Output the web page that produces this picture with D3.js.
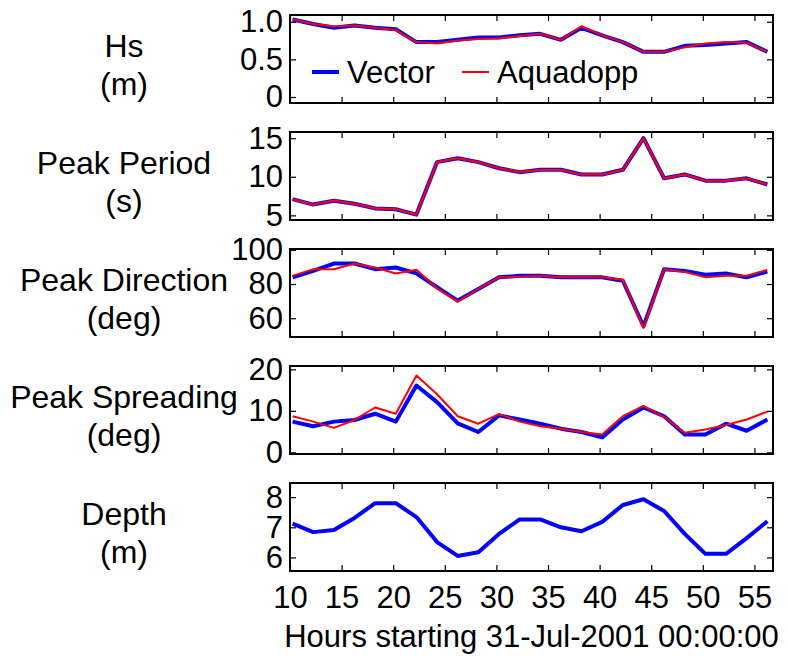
<!DOCTYPE html>
<html>
<head>
<meta charset="utf-8">
<script src="https://cdn.jsdelivr.net/npm/d3@7"></script>
<style>
  body { margin: 0; background: #fff; }
  svg { font-family: "Liberation Sans", Arial, sans-serif; }
</style>
</head>
<body>
<div id="chart"></div>
<script>
// sample times (hours since 31-Jul-2001 00:00)
var hours = [10.25, 12.25, 14.25, 16.25, 18.25, 20.25, 22.25, 24.25, 26.25, 28.25, 30.25, 32.25,
             34.25, 36.25, 38.25, 40.25, 42.25, 44.25, 46.25, 48.25, 50.25, 52.25, 54.25, 56.25];

var hsVector    = [1.03, 0.97, 0.92, 0.95, 0.92, 0.90, 0.73, 0.73, 0.76, 0.79, 0.79, 0.82,
                   0.84, 0.76, 0.92, 0.82, 0.73, 0.60, 0.60, 0.68, 0.69, 0.71, 0.73, 0.60];
var hsAquadopp  = [1.03, 0.97, 0.94, 0.95, 0.92, 0.89, 0.73, 0.71, 0.75, 0.77, 0.78, 0.81,
                   0.84, 0.76, 0.94, 0.82, 0.73, 0.60, 0.60, 0.66, 0.71, 0.73, 0.72, 0.60];

var periodVector   = [7.1, 6.4, 6.9, 6.5, 5.9, 5.8, 5.1, 11.9, 12.4, 11.9, 11.1, 10.6,
                      10.9, 10.9, 10.3, 10.3, 10.9, 15.0, 9.8, 10.3, 9.5, 9.5, 9.8, 9.0];
var periodAquadopp = [7.1, 6.4, 6.9, 6.5, 5.9, 5.8, 5.1, 11.9, 12.4, 11.9, 11.1, 10.6,
                      10.9, 10.9, 10.3, 10.3, 10.9, 15.0, 9.8, 10.3, 9.5, 9.5, 9.8, 9.0];

var dirVector   = [83.9, 87.7, 92.0, 92.0, 88.7, 89.7, 86.2, 78.1, 70.3, 77.1, 83.9, 84.8,
                   84.8, 83.9, 83.9, 83.9, 81.9, 55.3, 88.7, 87.7, 85.4, 86.2, 83.9, 87.3];
var dirAquadopp = [84.8, 88.7, 88.7, 92.0, 89.7, 86.2, 88.3, 77.5, 69.7, 77.1, 83.9, 84.2,
                   84.8, 83.9, 83.9, 83.9, 82.5, 54.3, 88.7, 87.1, 83.9, 84.8, 84.8, 88.3];

var spreadVector   = [7.4, 6.3, 7.4, 7.8, 9.3, 7.4, 16.1, 12.1, 7.0, 4.9, 8.9, 7.9,
                      6.9, 5.7, 4.9, 3.6, 7.9, 10.8, 8.7, 4.3, 4.3, 6.9, 5.2, 7.9];
var spreadAquadopp = [8.7, 7.4, 5.9, 7.8, 10.8, 9.3, 18.5, 14.0, 8.7, 6.9, 9.2, 7.4,
                      6.3, 5.7, 4.9, 4.3, 8.7, 11.2, 8.5, 4.7, 5.5, 6.6, 7.9, 9.8];

var depthVector = [7.12, 6.84, 6.91, 7.31, 7.80, 7.80, 7.34, 6.51, 6.05, 6.17, 6.78, 7.26,
                   7.26, 7.00, 6.87, 7.18, 7.74, 7.93, 7.54, 6.78, 6.12, 6.12, 6.64, 7.20];

var xTicks = [10, 15, 20, 25, 30, 35, 40, 45, 50, 55];
var hsTicks = [0, 0.5, 1.0];
var periodTicks = [5, 10, 15];
var dirTicks = [60, 80, 100];
var spreadTicks = [0, 10, 20];
var depthTicks = [6, 7, 8];

var seriesNames = ["Vector", "Aquadopp"];

var width = 788, height = 656;
var plotLeft = 290, plotRight = 773, panelHeight = 88, panelStep = 117, firstTop = 15;
var fontSize = 31, labelSize = 32;

var svg = d3.select("#chart")
  .append("svg")
    .attr("width", width)
    .attr("height", height);

var x = d3.scaleLinear()
    .domain([10, 56.8])
    .range([plotLeft, plotRight]);

function drawPanel(k, yDomain, yTicks, yFormat, lines, labelLines, showX) {
    var top = firstTop + k * panelStep,
        bottom = top + panelHeight;

    var y = d3.scaleLinear()
        .domain(yDomain)
        .range([bottom, top]);

    var g = svg.append("g");

    // clip the data to the axes box
    g.append("clipPath")
        .attr("id", "clip" + k)
      .append("rect")
        .attr("x", plotLeft)
        .attr("y", top)
        .attr("width", plotRight - plotLeft)
        .attr("height", panelHeight);

    var line = d3.line()
        .x(function(d, i) { return x(hours[i]); })
        .y(function(d) { return y(d); });

    lines.forEach(function(s) {
        g.append("path")
            .datum(s.values)
            .attr("clip-path", "url(#clip" + k + ")")
            .attr("fill", "none")
            .attr("stroke", s.color)
            .attr("stroke-width", s.width)
            .attr("stroke-linejoin", "round")
            .attr("d", line);
    });

    // left axis with labels
    var left = g.append("g")
        .attr("transform", "translate(" + plotLeft + ",0)")
        .call(d3.axisLeft(y).tickValues(yTicks).tickFormat(yFormat)
              .tickSizeInner(-6).tickSizeOuter(0).tickPadding(7));
    // mirrored ticks
    var right = g.append("g")
        .attr("transform", "translate(" + plotRight + ",0)")
        .call(d3.axisRight(y).tickValues(yTicks).tickFormat("")
              .tickSizeInner(-6).tickSizeOuter(0));
    var topAx = g.append("g")
        .attr("transform", "translate(0," + top + ")")
        .call(d3.axisTop(x).tickValues(xTicks).tickFormat("")
              .tickSizeInner(-6).tickSizeOuter(0));
    var botAx = g.append("g")
        .attr("transform", "translate(0," + bottom + ")")
        .call(d3.axisBottom(x).tickValues(xTicks).tickFormat(showX ? d3.format("d") : "")
              .tickSizeInner(-6).tickSizeOuter(0).tickPadding(15));

    [left, right, topAx, botAx].forEach(function(a) {
        a.select(".domain").remove();
        a.selectAll("line").attr("stroke", "#000").attr("stroke-width", 1.2);
        a.selectAll("text")
            .style("font-size", fontSize + "px")
            .style("fill", "#000");
        a.attr("font-family", null);
    });

    g.append("rect")
        .attr("x", plotLeft)
        .attr("y", top)
        .attr("width", plotRight - plotLeft)
        .attr("height", panelHeight)
        .attr("fill", "none")
        .attr("stroke", "#000")
        .attr("stroke-width", 2);

    // y label, two lines, horizontal
    var pc = (top + bottom) / 2;
    labelLines.forEach(function(t, i) {
        g.append("text")
            .attr("x", 124)
            .attr("y", pc - 2 + i * 37.5)
            .attr("text-anchor", "middle")
            .style("font-size", labelSize + "px")
            .text(t);
    });

    return { g: g, y: y, top: top, bottom: bottom };
}

var p1 = drawPanel(0, [-0.08, 1.09], hsTicks, function(d) { return d === 0 ? "0" : d3.format(".1f")(d); },
    [{ values: hsVector, color: "#0000ff", width: 4 },
     { values: hsAquadopp, color: "#ff0000", width: 2 }],
    ["Hs", "(m)"], false);

drawPanel(1, [4.4, 15.8], periodTicks, d3.format("d"),
    [{ values: periodVector, color: "#0000ff", width: 4 },
     { values: periodAquadopp, color: "#ff0000", width: 2.2 }],
    ["Peak Period", "(s)"], false);

drawPanel(2, [49, 100.5], dirTicks, d3.format("d"),
    [{ values: dirVector, color: "#0000ff", width: 4 },
     { values: dirAquadopp, color: "#ff0000", width: 2 }],
    ["Peak Direction", "(deg)"], false);

drawPanel(3, [-0.4, 20.8], spreadTicks, d3.format("d"),
    [{ values: spreadVector, color: "#0000ff", width: 4 },
     { values: spreadAquadopp, color: "#ff0000", width: 2 }],
    ["Peak Spreading", "(deg)"], false);

drawPanel(4, [5.55, 8.47], depthTicks, d3.format("d"),
    [{ values: depthVector, color: "#0000ff", width: 4 }],
    ["Depth", "(m)"], true);

// legend in the top panel
var legendColors = ["#0000ff", "#ff0000"],
    legendWidths = [4, 2],
    legendX = [312, 462],
    legendY = 72;

var legend = p1.g.selectAll(".legend")
    .data(seriesNames)
    .enter().append("g")
    .attr("class", "legend");

legend.append("line")
    .attr("x1", function(d, i) { return legendX[i]; })
    .attr("x2", function(d, i) { return legendX[i] + 27; })
    .attr("y1", legendY)
    .attr("y2", legendY)
    .attr("stroke", function(d, i) { return legendColors[i]; })
    .attr("stroke-width", function(d, i) { return legendWidths[i]; });

legend.append("text")
    .attr("x", function(d, i) { return legendX[i] + 35; })
    .attr("y", legendY + 11)
    .style("font-size", fontSize + "px")
    .text(function(d) { return d; });

// x axis label
svg.append("text")
    .attr("x", (plotLeft + plotRight) / 2)
    .attr("y", 647)
    .attr("text-anchor", "middle")
    .style("font-size", fontSize + "px")
    .text("Hours starting 31-Jul-2001 00:00:00");
</script>
</body>
</html>
